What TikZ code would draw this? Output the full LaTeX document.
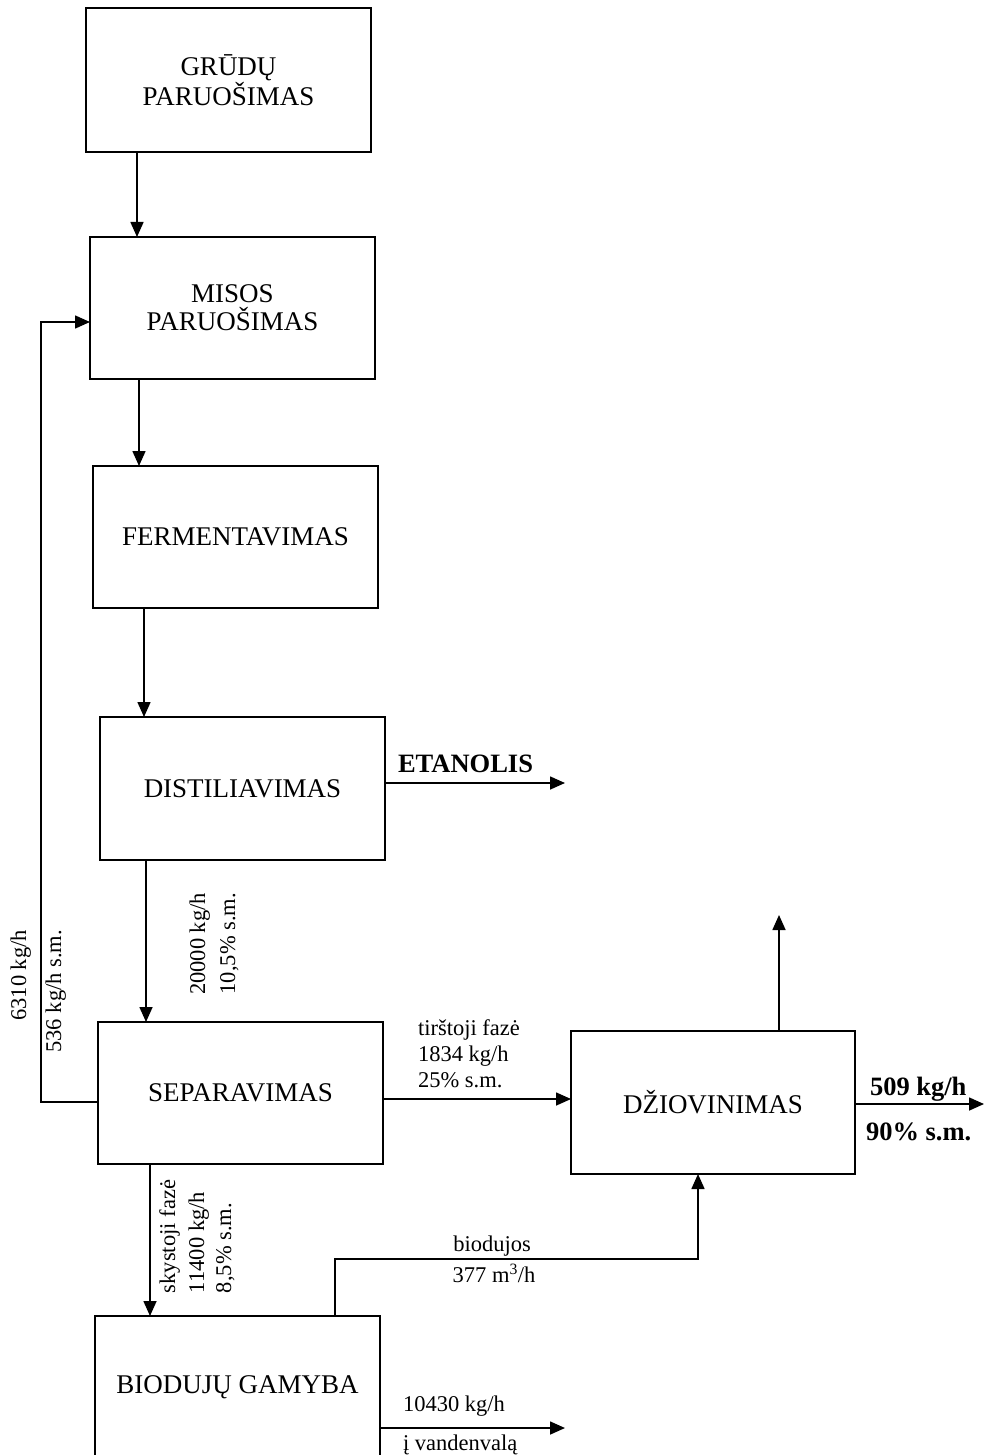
\documentclass[tikz,border=0pt]{standalone}
\usepackage{fontspec}
\setmainfont{Liberation Serif}
\usetikzlibrary{arrows.meta}
\begin{document}
\begin{tikzpicture}[x=1pt,y=-1pt,
  box/.style={draw, line width=1.7pt, inner sep=0pt, outer sep=0pt, align=center,
    font=\fontsize{27}{28}\selectfont},
  lbl/.style={inner sep=0pt, outer sep=0pt, font=\fontsize{22.5}{26}\selectfont},
  blbl/.style={inner sep=0pt, outer sep=0pt, font=\bfseries\fontsize{26.5}{30}\selectfont},
  conn/.style={line width=1.6pt},
  arr/.style={conn, -{Triangle[length=15pt,width=13pt]}}]
\useasboundingbox (0,0) rectangle (984,1455);
\begin{scope}
\clip (0,0) rectangle (984,1455);
% boxes
\node[box, minimum width=285pt, minimum height=144pt] (b1) at (228.5,80) {GRŪDŲ\\PARUOŠIMAS};
\node[box, minimum width=285pt, minimum height=142pt] (b2) at (232.5,308) {MISOS\\PARUOŠIMAS};
\node[box, minimum width=285pt, minimum height=142pt] (b3) at (235.5,537) {FERMENTAVIMAS};
\node[box, minimum width=285pt, minimum height=143pt] (b4) at (242.5,788.5) {DISTILIAVIMAS};
\node[box, minimum width=285pt, minimum height=142pt] (b5) at (240.5,1093) {SEPARAVIMAS};
\node[box, minimum width=284pt, minimum height=143pt] (b6) at (713,1102.5) {DŽIOVINIMAS};
\node[box, minimum width=285pt, minimum height=142pt] (b7) at (237.5,1387) {BIODUJŲ GAMYBA};

% helper coordinates
\coordinate (x1) at (137,0);
\coordinate (x2) at (139,0);
\coordinate (x3) at (144,0);
\coordinate (x4) at (146,0);
\coordinate (x5) at (150,0);
\coordinate (fbL) at (41,0);
\coordinate (fbY1) at (0,1102);
\coordinate (fbY2) at (0,322);
\coordinate (etEnd) at (565,783);
\coordinate (sepY) at (0,1099);
\coordinate (upEnd) at (779,915);
\coordinate (prodEnd) at (984,1104);
\coordinate (bgC) at (335,1259);
\coordinate (bgX2) at (698,0);
\coordinate (wEnd) at (565,1428);

% connectors
\draw[arr] (b1.south -| x1) -- (b2.north -| x1);
\draw[arr] (b2.south -| x2) -- (b3.north -| x2);
\draw[arr] (b3.south -| x3) -- (b4.north -| x3);
\draw[arr] (b4.south -| x4) -- (b5.north -| x4);
\draw[arr] (b5.south -| x5) -- (b7.north -| x5);
\draw[arr] (b5.west |- fbY1) -| (fbL |- fbY2) -- (b2.west |- fbY2);
\draw[arr] (b4.east |- etEnd) -- (etEnd);
\draw[arr] (b5.east |- sepY) -- (b6.west |- sepY);
\draw[arr] (b6.north -| upEnd) -- (upEnd);
\draw[arr] (b6.east |- prodEnd) -- (prodEnd);
\draw[arr] (b7.north -| bgC) -- (bgC) -| (b6.south -| bgX2);
\draw[arr] (b7.east |- wEnd) -- (wEnd);
\end{scope}

% labels
\node[blbl, anchor=base west] (lEt) at (398,772) {ETANOLIS};
\node[lbl, rotate=90, anchor=base east] (lFb1) at (26,930) {6310 kg/h};
\node[lbl, rotate=90, anchor=base east] (lFb2) at (61,930) {536 kg/h s.m.};
\node[lbl, rotate=90, anchor=base east] (lD1) at (205,893) {20000 kg/h};
\node[lbl, rotate=90, anchor=base east] (lD2) at (235,893) {10,5\% s.m.};
\node[lbl, rotate=90, anchor=base west] (lS1) at (175,1293) {skystoji fazė};
\node[lbl, rotate=90, anchor=base west] (lS2) at (204,1293) {11400 kg/h};
\node[lbl, rotate=90, anchor=base west] (lS3) at (231,1293) {8,5\% s.m.};
\node[lbl, anchor=base west] (lT1) at (418,1035) {tirštoji fazė};
\node[lbl, anchor=base west] (lT2) at (418,1061) {1834 kg/h};
\node[lbl, anchor=base west] (lT3) at (418,1087) {25\% s.m.};
\node[blbl, anchor=base west] (lP1) at (870,1095) {509 kg/h};
\node[blbl, anchor=base west] (lP2) at (866,1140) {90\% s.m.};
\node[lbl, anchor=base] (lB1) at (492,1251) {biodujos};
\node[lbl, anchor=base] (lB2) at (494,1282) {377 m\textsuperscript{3}/h};
\node[lbl, anchor=base west] (lW1) at (403,1411) {10430 kg/h};
\node[lbl, anchor=base west] (lW2) at (403,1450) {į vandenvalą};
\end{tikzpicture}
\end{document}
